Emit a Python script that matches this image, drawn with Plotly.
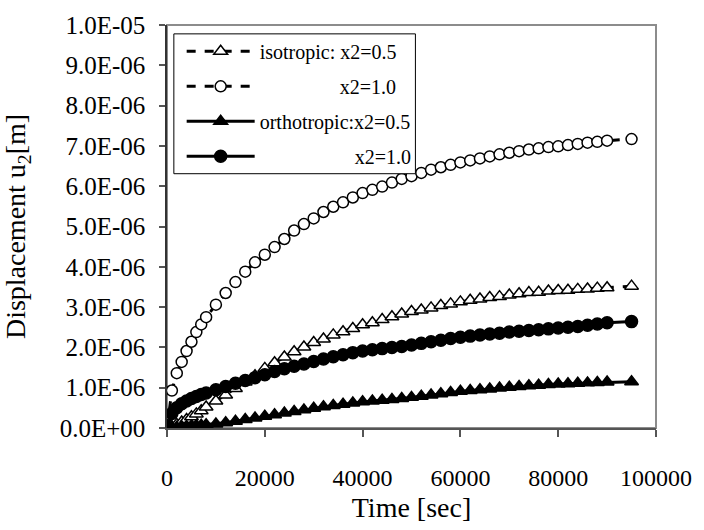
import numpy as np
import plotly.graph_objects as go

# Time samples [s]
time_s = [0, 1000, 2000, 3000, 4000, 5000, 6000, 7000, 8000,
          10000, 12000, 14000, 16000, 18000, 20000, 22000, 24000, 26000, 28000,
          30000, 32000, 34000, 36000, 38000, 40000, 42000, 44000, 46000, 48000,
          50000, 52000, 54000, 56000, 58000, 60000, 62000, 64000, 66000, 68000,
          70000, 72000, 74000, 76000, 78000, 80000, 82000, 84000, 86000, 88000,
          90000, 95000]

# Displacement u2 in micrometres (converted to metres when plotted)
iso_x05 = [0.00, 0.04, 0.09, 0.15, 0.21, 0.28, 0.35, 0.43, 0.52,
           0.67, 0.82, 0.98, 1.14, 1.30, 1.48, 1.62, 1.76, 1.89, 2.01,
           2.12, 2.21, 2.31, 2.39, 2.47, 2.56, 2.61, 2.69, 2.76, 2.83,
           2.89, 2.93, 2.98, 3.04, 3.08, 3.13, 3.17, 3.20, 3.24, 3.26,
           3.30, 3.33, 3.36, 3.37, 3.40, 3.41, 3.42, 3.44, 3.45, 3.47,
           3.48, 3.52]

iso_x10 = [0.00, 0.93, 1.36, 1.64, 1.91, 2.14, 2.38, 2.57, 2.75,
           3.06, 3.35, 3.62, 3.88, 4.11, 4.30, 4.49, 4.69, 4.90, 5.06,
           5.20, 5.36, 5.49, 5.60, 5.72, 5.83, 5.91, 5.99, 6.09, 6.18,
           6.25, 6.33, 6.41, 6.47, 6.53, 6.59, 6.64, 6.69, 6.74, 6.79,
           6.83, 6.87, 6.91, 6.94, 6.97, 6.99, 7.02, 7.05, 7.08, 7.10,
           7.13, 7.17]

ortho_x05 = [0.00, 0.01, 0.02, 0.03, 0.04, 0.05, 0.06, 0.07, 0.08,
             0.10, 0.13, 0.17, 0.21, 0.25, 0.29, 0.33, 0.37, 0.41, 0.45,
             0.49, 0.53, 0.56, 0.59, 0.62, 0.65, 0.67, 0.69, 0.71, 0.73,
             0.76, 0.79, 0.82, 0.85, 0.88, 0.91, 0.93, 0.95, 0.97, 0.99,
             1.01, 1.03, 1.05, 1.06, 1.08, 1.09, 1.10, 1.11, 1.12, 1.13,
             1.14, 1.15]

ortho_x10 = [0.00, 0.36, 0.50, 0.60, 0.67, 0.73, 0.78, 0.83, 0.87,
             0.95, 1.03, 1.11, 1.18, 1.25, 1.32, 1.40, 1.47, 1.53, 1.59,
             1.65, 1.71, 1.77, 1.82, 1.87, 1.91, 1.94, 1.97, 2.00, 2.02,
             2.06, 2.10, 2.14, 2.18, 2.22, 2.25, 2.28, 2.31, 2.33, 2.35,
             2.38, 2.40, 2.42, 2.44, 2.46, 2.48, 2.50, 2.52, 2.55, 2.58,
             2.61, 2.64]

x_ticks = [0, 20000, 40000, 60000, 80000, 100000]
y_ticks = [0.0, 1e-6, 2e-6, 3e-6, 4e-6, 5e-6, 6e-6, 7e-6, 8e-6, 9e-6, 1e-5]
y_tick_labels = ["0.0E+00", "1.0E-06", "2.0E-06", "3.0E-06", "4.0E-06", "5.0E-06",
                 "6.0E-06", "7.0E-06", "8.0E-06", "9.0E-06", "1.0E-05"]

NB = "\u00a0"
names = ["isotropic: x2=0.5", NB * 16 + "x2=1.0",
         "orthotropic:x2=0.5", NB * 19 + "x2=1.0"]

SERIF = "Liberation Serif, Times New Roman, serif"

fig = go.Figure()

series = [
    (iso_x05, "triangle-up", "white", 12, "dash"),
    (iso_x10, "circle", "white", 11, "dash"),
    (ortho_x05, "triangle-up", "black", 12, "solid"),
    (ortho_x10, "circle", "black", 12, "solid"),
]

for i, (vals, sym, fill, size, dash) in enumerate(series):
    fig.add_trace(go.Scatter(
        x=time_s,
        y=np.array(vals) * 1e-6,
        mode="lines+markers",
        name=names[i],
        legendgroup=f"g{i}",
        line=dict(color="black", width=3, dash=dash),
        marker=dict(symbol=sym, size=size, color=fill,
                    line=dict(color="black", width=1.5)),
    ))

# light frame around the plotting area
fig.add_shape(type="rect", xref="paper", yref="paper", x0=0, y0=0, x1=1, y1=1,
              line=dict(color="#8c8c8c", width=2), layer="below")
# legend box (the legend itself is drawn borderless on top of it)
fig.add_shape(type="rect", xref="paper", yref="paper",
              x0=0.014, y0=0.631, x1=0.508, y1=0.978,
              line=dict(color="black", width=1), fillcolor="white", layer="above")

fig.update_layout(
    width=704, height=530,
    margin=dict(l=165, r=38, t=18, b=100),
    paper_bgcolor="white", plot_bgcolor="white",
    font=dict(family=SERIF, color="black"),
    showlegend=True,
    legend=dict(
        x=0.030, y=0.983, xanchor="left", yanchor="top",
        bgcolor="rgba(0,0,0,0)", borderwidth=0,
        font=dict(family=SERIF, size=20, color="black"),
        tracegroupgap=6, itemwidth=68,
    ),
    xaxis=dict(
        range=[0, 100000], tickvals=x_ticks, ticktext=[str(v) for v in x_ticks],
        showgrid=False, zeroline=False,
        showline=True, linecolor="#555555", linewidth=2,
        ticks="outside", ticklen=7, tickwidth=1.5, tickcolor="#555555",
        tickfont=dict(family=SERIF, size=24, color="black"),
        ticklabelstandoff=20,
        title=dict(text="Time [sec]", font=dict(family=SERIF, size=28), standoff=8),
    ),
    yaxis=dict(
        range=[0, 1e-5], tickvals=y_ticks, ticktext=y_tick_labels,
        showgrid=False, zeroline=False,
        showline=True, linecolor="#333333", linewidth=1.5,
        ticks="outside", ticklen=6, tickwidth=1.5, tickcolor="#555555",
        tickfont=dict(family=SERIF, size=25, color="black"),
        ticklabelstandoff=9,
        title=dict(text="Displacement u<sub>2</sub>[m]",
                   font=dict(family=SERIF, size=28), standoff=28),
    ),
)

fig.write_html("out.html")
